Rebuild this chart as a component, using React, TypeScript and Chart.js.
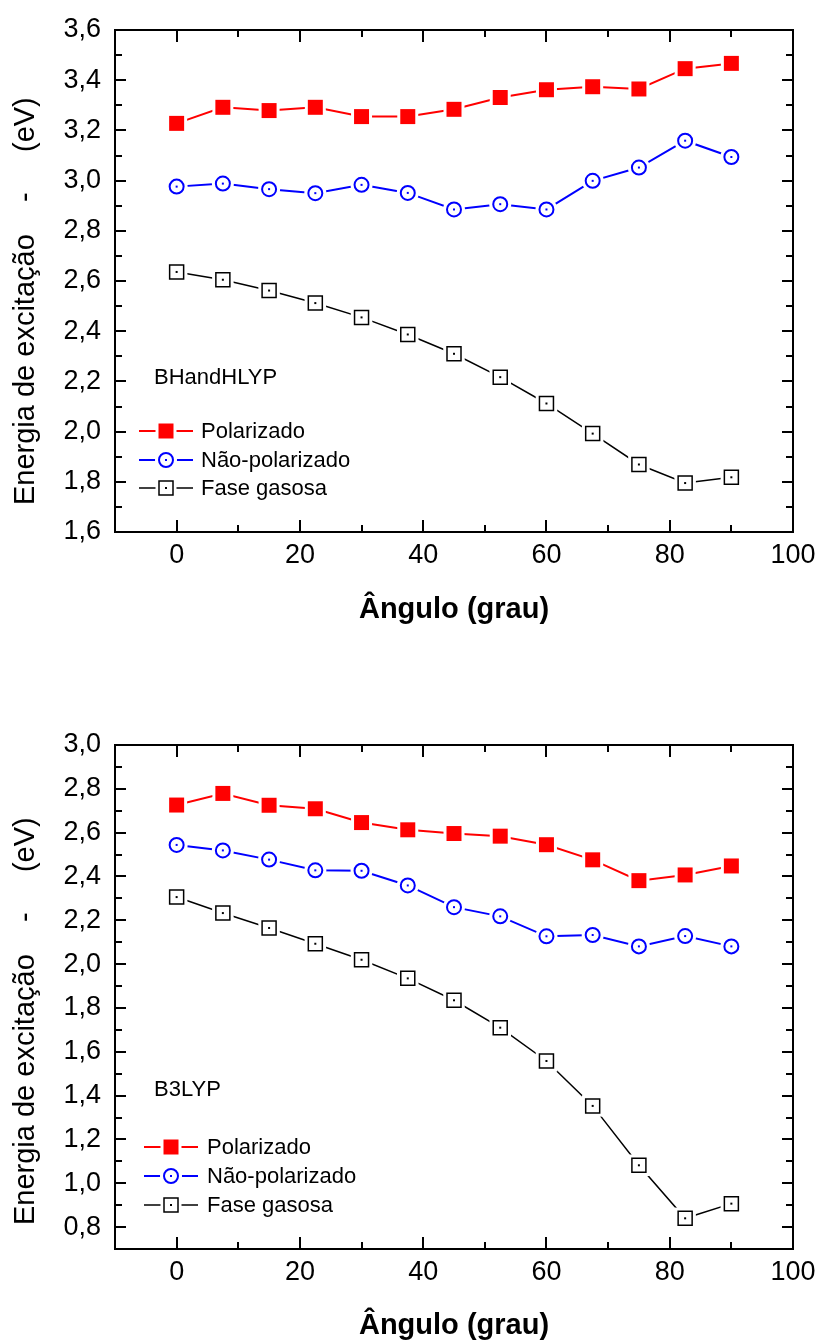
import React, { useEffect, useRef } from 'react';
import { Chart, registerables } from 'chart.js';

Chart.register(...registerables);

// ---------------- data ----------------
const angles = [0, 7.5, 15, 22.5, 30, 37.5, 45, 52.5, 60, 67.5, 75, 82.5, 90];

const seriesNames = ['Polarizado', 'Não-polarizado', 'Fase gasosa'];

const bhPolarizado = [3.228, 3.292, 3.279, 3.292, 3.255, 3.255, 3.284, 3.331, 3.362, 3.374, 3.365, 3.446, 3.467];
const bhNaoPolarizado = [2.976, 2.988, 2.966, 2.95, 2.983, 2.951, 2.885, 2.906, 2.885, 2.999, 3.052, 3.159, 3.094];
const bhFaseGasosa = [2.636, 2.605, 2.562, 2.512, 2.455, 2.387, 2.31, 2.217, 2.112, 1.992, 1.869, 1.795, 1.818];

const b3Polarizado = [2.726, 2.779, 2.725, 2.709, 2.646, 2.613, 2.596, 2.584, 2.545, 2.476, 2.381, 2.407, 2.448];
const b3NaoPolarizado = [2.544, 2.519, 2.477, 2.428, 2.426, 2.359, 2.26, 2.218, 2.127, 2.133, 2.081, 2.128, 2.081];
const b3FaseGasosa = [2.306, 2.233, 2.165, 2.093, 2.02, 1.935, 1.835, 1.71, 1.558, 1.353, 1.082, 0.84, 0.907];

const xTicks = [0, 20, 40, 60, 80, 100];
const xMinorTicks = [-10, 10, 30, 50, 70, 90];
const bhYTicks = [1.6, 1.8, 2.0, 2.2, 2.4, 2.6, 2.8, 3.0, 3.2, 3.4, 3.6];
const b3YTicks = [0.8, 1.0, 1.2, 1.4, 1.6, 1.8, 2.0, 2.2, 2.4, 2.6, 2.8, 3.0];

const xTitle = 'Ângulo (grau)';
const NB = '\u00A0';
const yTitleBase = 'Energia de excitação' + NB.repeat(4) + '-' + NB.repeat(5) + '(eV)';

// ---------------- styling ----------------
const FONT = "'Liberation Sans', Arial, Helvetica, sans-serif";
const COLORS = ['#ff0000', '#0000ff', '#000000'];

type PanelCfg = {
  canvasTop: number;
  canvasH: number;
  areaTop: number;
  areaBottom: number;
  yMin: number;
  yMax: number;
  yTicks: number[];
  series: number[][];
  method: string;
  methodPos: [number, number];
  legendRows: number[];
  legendLine: [number, number];
  legendMarkerX: number;
  legendTextX: number;
  xTitlePad: number;
  yTitle: string;
};

const AREA_LEFT = 115;
const AREA_RIGHT = 793;
const W = 816;

function markerPath(ctx: CanvasRenderingContext2D, kind: number, x: number, y: number, half: number) {
  ctx.beginPath();
  if (kind === 1) ctx.arc(x, y, half, 0, Math.PI * 2);
  else ctx.rect(x - half, y - half, half * 2, half * 2);
}

function drawLegendMarker(ctx: CanvasRenderingContext2D, kind: number, x: number, y: number) {
  ctx.fillStyle = '#fff';
  markerPath(ctx, kind, x, y, kind === 0 ? 10.5 : kind === 1 ? 11 : 10.5);
  ctx.fill();
  if (kind === 0) {
    ctx.fillStyle = COLORS[0];
    markerPath(ctx, 0, x, y, 7.5);
    ctx.fill();
  } else if (kind === 1) {
    ctx.fillStyle = '#fff';
    ctx.strokeStyle = COLORS[1];
    ctx.lineWidth = 2;
    markerPath(ctx, 1, x, y, 7);
    ctx.fill();
    ctx.stroke();
    ctx.fillStyle = COLORS[1];
    ctx.fillRect(x - 1, y - 1, 2, 2);
  } else {
    ctx.fillStyle = '#fff';
    ctx.strokeStyle = COLORS[2];
    ctx.lineWidth = 1.5;
    markerPath(ctx, 2, x, y, 7);
    ctx.fill();
    ctx.stroke();
    ctx.fillStyle = COLORS[2];
    ctx.fillRect(x - 1, y - 1, 2, 2);
  }
}

function buildConfig(cfg: PanelCfg): any {
  const pointRadii = [10.6, 7, 9.9];
  const pointBorders = [0, 2, 1.5];
  const lineWidths = [2, 2, 1.5];

  const datasets = cfg.series.map((vals, i) => ({
    label: seriesNames[i],
    data: angles.map((a, j) => ({ x: a, y: vals[j] })),
    borderColor: COLORS[i],
    borderWidth: lineWidths[i],
    backgroundColor: COLORS[i],
    pointStyle: i === 1 ? 'circle' : 'rect',
    pointRadius: pointRadii[i],
    pointHoverRadius: pointRadii[i],
    pointBackgroundColor: i === 0 ? COLORS[0] : '#ffffff',
    pointBorderColor: COLORS[i],
    pointBorderWidth: pointBorders[i],
    tension: 0,
    fill: false,
    clip: false,
  }));

  const haloPlugin = {
    id: 'haloMarkers',
    afterDatasetsDraw(chart: any) {
      const ctx: CanvasRenderingContext2D = chart.ctx;
      chart.data.datasets.forEach((ds: any, i: number) => {
        const meta = chart.getDatasetMeta(i);
        meta.data.forEach((pt: any) => {
          const x = pt.x;
          const y = pt.y;
          const r = pointRadii[i];
          const bw = pointBorders[i];
          const half = (i === 1 ? r : Math.SQRT1_2 * r) + bw / 2 + 3;
          ctx.save();
          ctx.fillStyle = '#fff';
          markerPath(ctx, i, x, y, half);
          ctx.fill();
          ctx.restore();
          pt.draw(ctx, chart.chartArea);
          if (i > 0) {
            ctx.save();
            ctx.fillStyle = COLORS[i];
            ctx.fillRect(x - 1, y - 1, 2, 2);
            ctx.restore();
          }
        });
      });
    },
  };

  const framePlugin = {
    id: 'frameTicks',
    afterDraw(chart: any) {
      const ctx: CanvasRenderingContext2D = chart.ctx;
      const a = chart.chartArea;
      const xs = chart.scales.x;
      const ys = chart.scales.y;
      ctx.save();
      ctx.strokeStyle = '#000';
      ctx.lineWidth = 2;
      ctx.strokeRect(a.left, a.top, a.right - a.left, a.bottom - a.top);
      ctx.lineWidth = 2;
      ctx.beginPath();
      const xAll = [...xTicks.map((v) => [v, 12]), ...xMinorTicks.map((v) => [v, 7])];
      xAll.forEach(([v, len]) => {
        const px = Math.round(xs.getPixelForValue(v));
        ctx.moveTo(px, a.bottom);
        ctx.lineTo(px, a.bottom - len);
        ctx.moveTo(px, a.top);
        ctx.lineTo(px, a.top + len);
      });
      const n = Math.round((cfg.yMax - cfg.yMin) / 0.1);
      for (let k = 0; k <= n; k++) {
        const v = cfg.yMin + k * 0.1;
        const major = cfg.yTicks.some((t) => Math.abs(t - v) < 1e-6);
        const len = major ? 11 : 7;
        const py = Math.round(ys.getPixelForValue(v));
        ctx.moveTo(a.left, py);
        ctx.lineTo(a.left + len, py);
        ctx.moveTo(a.right, py);
        ctx.lineTo(a.right - len, py);
      }
      ctx.stroke();
      ctx.restore();
    },
  };

  const legendPlugin = {
    id: 'customLegend',
    afterDraw(chart: any) {
      const ctx: CanvasRenderingContext2D = chart.ctx;
      ctx.save();
      ctx.fillStyle = '#000';
      ctx.font = `22px ${FONT}`;
      ctx.textAlign = 'left';
      ctx.textBaseline = 'middle';
      ctx.fillText(cfg.method, cfg.methodPos[0], cfg.methodPos[1]);
      cfg.legendRows.forEach((y, i) => {
        ctx.strokeStyle = COLORS[i];
        ctx.lineWidth = lineWidths[i];
        ctx.beginPath();
        ctx.moveTo(cfg.legendLine[0], y);
        ctx.lineTo(cfg.legendLine[1], y);
        ctx.stroke();
        drawLegendMarker(ctx, i, cfg.legendMarkerX, y);
        ctx.fillStyle = '#000';
        ctx.font = `22px ${FONT}`;
        ctx.textAlign = 'left';
        ctx.textBaseline = 'middle';
        ctx.fillText(seriesNames[i], cfg.legendTextX, y + 1);
      });
      ctx.restore();
    },
  };

  return {
    type: 'line',
    data: { datasets },
    plugins: [haloPlugin, framePlugin, legendPlugin],
    options: {
      responsive: false,
      maintainAspectRatio: false,
      animation: false,
      devicePixelRatio: 1,
      events: [],
      layout: {
        padding: { left: 0, right: W - AREA_RIGHT, top: cfg.areaTop, bottom: 0 },
      },
      plugins: {
        legend: { display: false },
        tooltip: { enabled: false },
        title: { display: false },
      },
      scales: {
        x: {
          type: 'linear',
          position: 'bottom',
          min: -10,
          max: 100,
          afterBuildTicks: (scale: any) => {
            scale.ticks = xTicks.map((v) => ({ value: v }));
          },
          afterFit: (scale: any) => {
            scale.height = cfg.canvasH - cfg.areaBottom;
            scale.paddingLeft = 0;
            scale.paddingRight = 0;
          },
          grid: { display: false, drawTicks: false },
          border: { display: false },
          ticks: {
            padding: 7,
            color: '#000',
            font: { family: FONT, size: 27 },
            maxRotation: 0,
            autoSkip: false,
            callback: (v: any) => String(v),
          },
          title: {
            display: true,
            text: xTitle,
            color: '#000',
            font: { family: FONT, size: 29, weight: 'bold', lineHeight: 1 },
            padding: { top: 0, bottom: cfg.xTitlePad },
          },
        },
        y: {
          type: 'linear',
          position: 'left',
          min: cfg.yMin,
          max: cfg.yMax,
          afterBuildTicks: (scale: any) => {
            scale.ticks = cfg.yTicks.map((v) => ({ value: v }));
          },
          afterFit: (scale: any) => {
            scale.width = AREA_LEFT;
            scale.paddingTop = 0;
            scale.paddingBottom = 0;
          },
          grid: { display: false, drawTicks: false },
          border: { display: false },
          ticks: {
            padding: 14,
            color: '#000',
            font: { family: FONT, size: 27 },
            autoSkip: false,
            callback: (v: any) => Number(v).toFixed(1).replace('.', ','),
          },
          title: {
            display: true,
            text: cfg.yTitle,
            color: '#000',
            font: { family: FONT, size: 29, lineHeight: 1 },
            padding: { top: 11, bottom: 0 },
          },
        },
      },
    },
  };
}

function Panel({ cfg }: { cfg: PanelCfg }) {
  const ref = useRef<HTMLCanvasElement>(null);
  useEffect(() => {
    if (!ref.current) return;
    const chart = new Chart(ref.current, buildConfig(cfg));
    return () => chart.destroy();
  }, []);
  return (
    <canvas
      ref={ref}
      width={W}
      height={cfg.canvasH}
      style={{ position: 'absolute', left: 0, top: cfg.canvasTop, width: W, height: cfg.canvasH, display: 'block' }}
    />
  );
}

const topPanel: PanelCfg = {
  canvasTop: 0,
  canvasH: 670,
  areaTop: 30,
  areaBottom: 532,
  yMin: 1.6,
  yMax: 3.6,
  yTicks: bhYTicks,
  series: [bhPolarizado, bhNaoPolarizado, bhFaseGasosa],
  method: 'BHandHLYP',
  methodPos: [154, 378],
  legendRows: [431, 460, 488],
  legendLine: [139, 193],
  legendMarkerX: 166,
  legendTextX: 201,
  xTitlePad: 46,
  yTitle: yTitleBase + NB.repeat(5),
};

const bottomPanel: PanelCfg = {
  canvasTop: 670,
  canvasH: 670,
  areaTop: 75,
  areaBottom: 579,
  yMin: 0.7,
  yMax: 3.0,
  yTicks: b3YTicks,
  series: [b3Polarizado, b3NaoPolarizado, b3FaseGasosa],
  method: 'B3LYP',
  methodPos: [154, 420],
  legendRows: [477, 506, 535],
  legendLine: [144, 198],
  legendMarkerX: 171,
  legendTextX: 207,
  xTitlePad: 0,
  yTitle: yTitleBase + NB.repeat(6),
};

export default function App() {
  return (
    <div
      style={{
        position: 'absolute',
        left: 0,
        top: 0,
        width: W,
        height: 1340,
        overflow: 'hidden',
        background: '#fff',
      }}
    >
      <Panel cfg={topPanel} />
      <Panel cfg={bottomPanel} />
    </div>
  );
}
